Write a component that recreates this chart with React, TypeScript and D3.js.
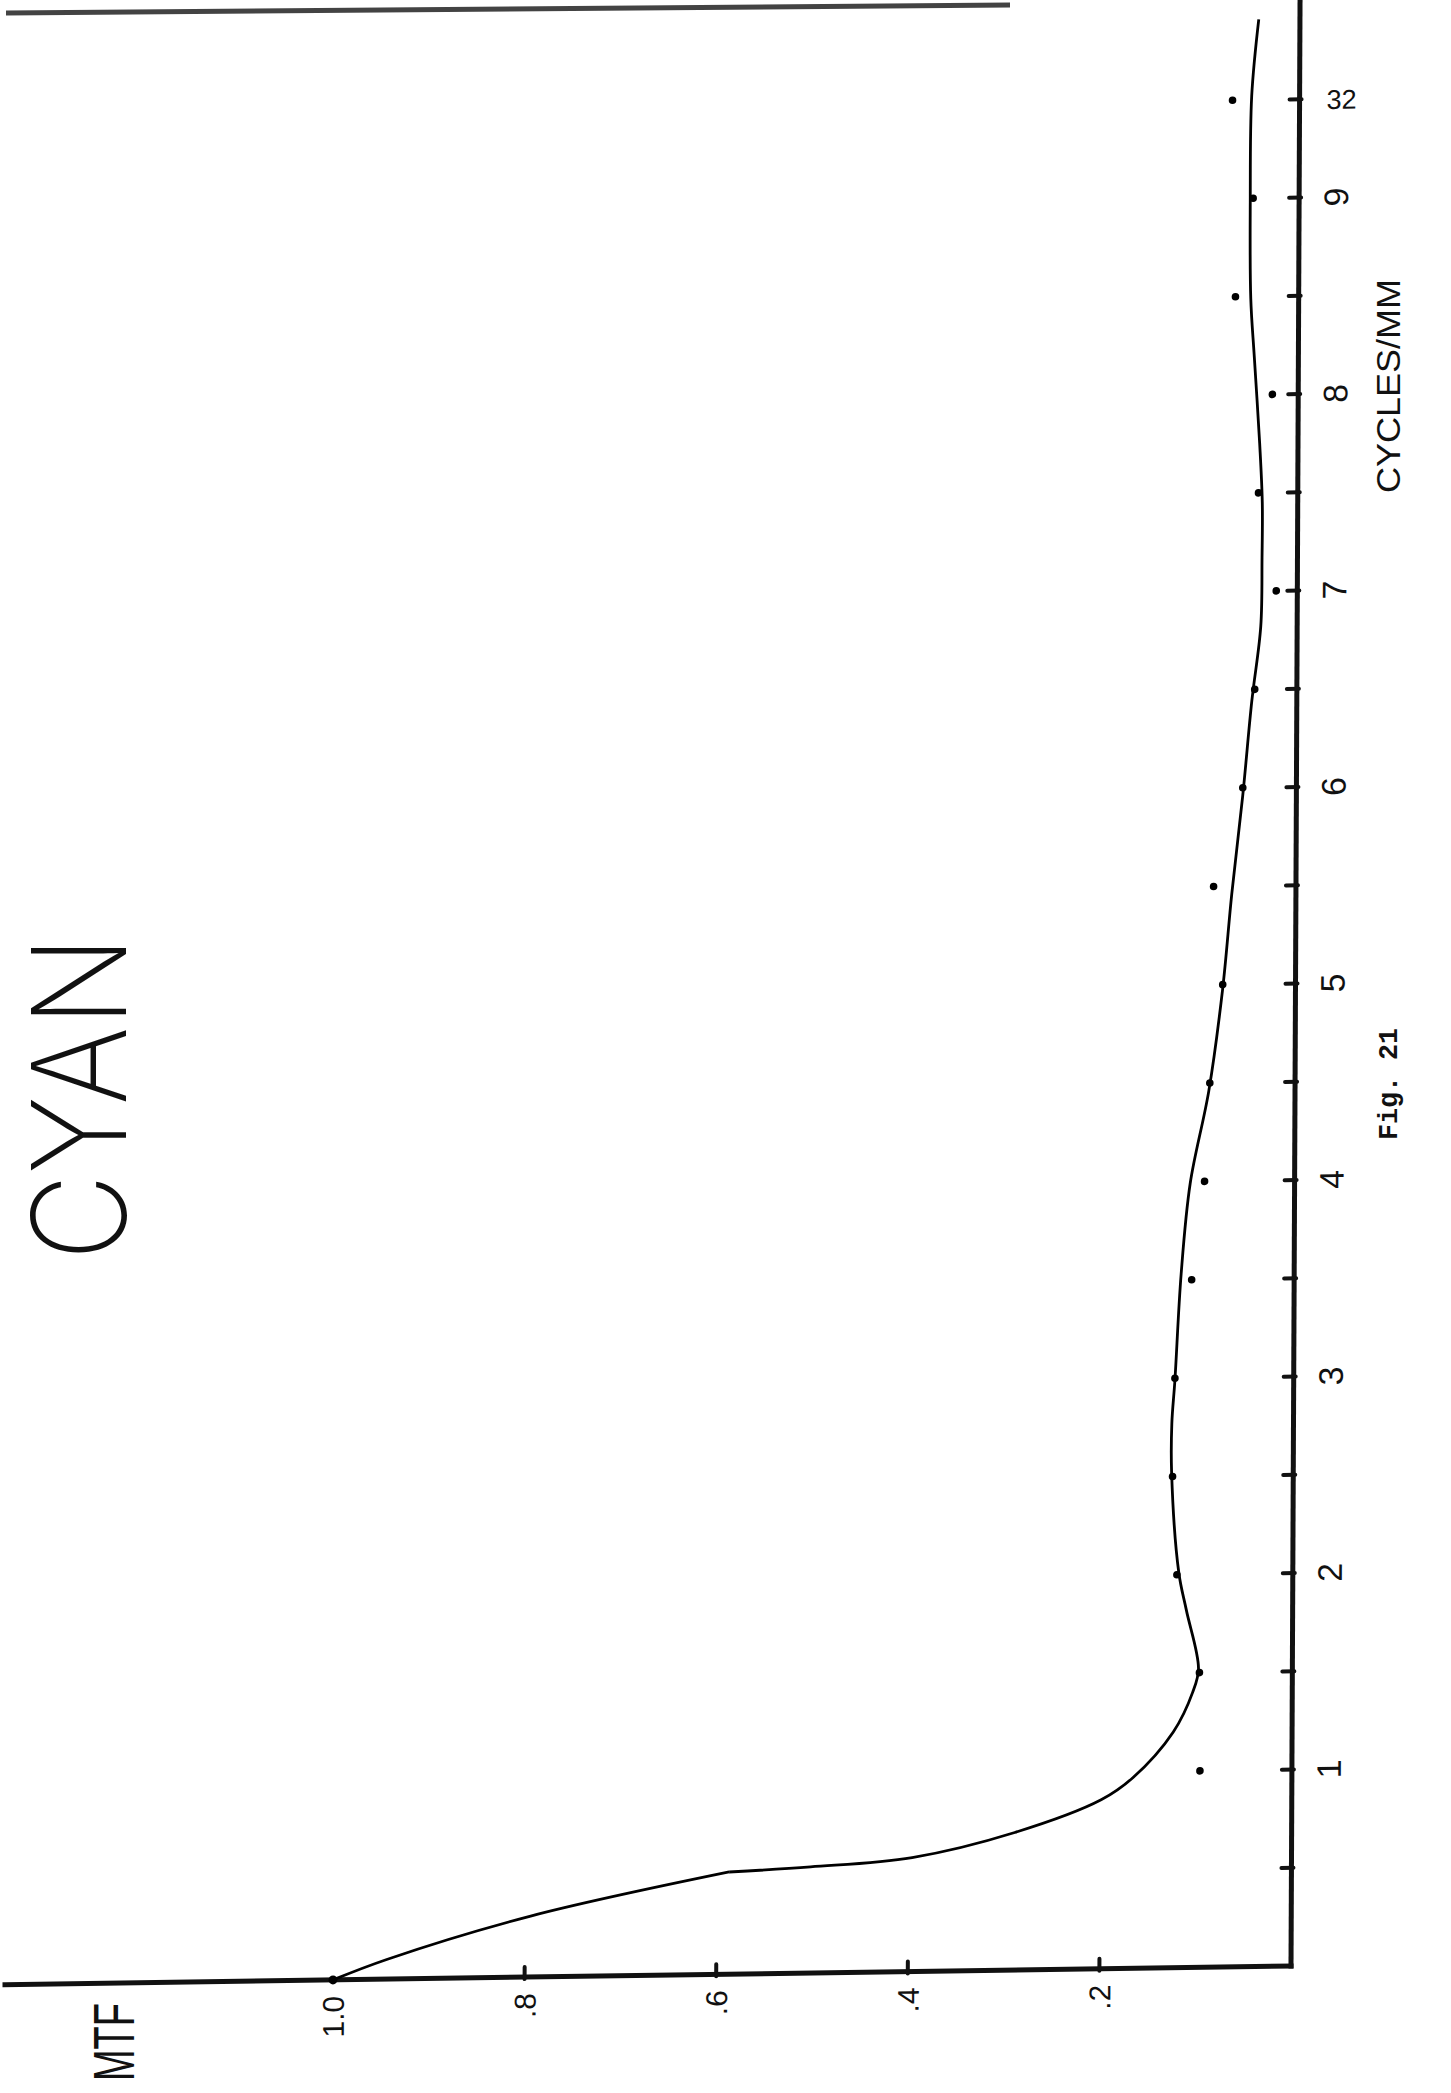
import React from "react";
import * as d3 from "d3";

// Curve traced through the hand-drawn line (cycles index, MTF)
const curveCycles = [0, 0.10, 0.31, 0.52, 0.54, 0.58, 0.70, 0.86, 0.97, 1.20, 1.40, 1.52, 1.82, 2.01, 2.52, 2.77, 2.99, 3.53, 3.99, 4.46, 4.98, 5.46, 5.96, 6.44, 6.82, 7.17, 7.45, 7.75, 8.19, 8.49, 8.98, 9.52, 9.91];
const curveMTF = [1.0, 0.944, 0.794, 0.587, 0.502, 0.396, 0.289, 0.199, 0.166, 0.124, 0.104, 0.098, 0.111, 0.119, 0.127, 0.127, 0.124, 0.118, 0.109, 0.090, 0.076, 0.067, 0.056, 0.047, 0.038, 0.037, 0.037, 0.040, 0.046, 0.050, 0.051, 0.050, 0.043];
const kinkIndex = 3;

// Measured points (dots)
const dotCycles = [0, 1, 1.5, 2, 2.5, 3, 3.5, 4, 4.5, 5, 5.5, 6, 6.5, 7, 7.5, 8, 8.5, 9, 9.5];
const dotMTF = [1.0, 0.096, 0.097, 0.121, 0.126, 0.124, 0.107, 0.094, 0.089, 0.076, 0.086, 0.056, 0.044, 0.022, 0.041, 0.027, 0.066, 0.048, 0.070];

// Axis ticks and labels
const cycleTicks = [0.5, 1, 1.5, 2, 2.5, 3, 3.5, 4, 4.5, 5, 5.5, 6, 6.5, 7, 7.5, 8, 8.5, 9, 9.5];
const cycleLabelPos = [1, 2, 3, 4, 5, 6, 7, 8, 9];
const cycleLabelText = ["1", "2", "3", "4", "5", "6", "7", "8", "9"];
const endLabelPos = 9.5;
const endLabelText = "32";
const mtfTicks = [0.2, 0.4, 0.6, 0.8];
const mtfLabelPos = [0.2, 0.4, 0.6, 0.8, 1.0];
const mtfLabelText = [".2", ".4", ".6", ".8", "1.0"];

const titleText = "CYAN";
const yTitleText = "MTF";
const xTitleText = "CYCLES/MM";
const captionText = "Fig. 21";

type P = { c: number; m: number };

export default function App() {
  const W = 1451;
  const H = 2093;
  const cornerX = 1291;
  const cornerY = 1966;
  const k = -0.0145; // slant of the bottom axis
  const mSk = -0.0046; // slant of the right axis

  const x = d3.scaleLinear().domain([0, 1]).range([cornerX, 333]);
  const y = d3.scaleLinear().domain([0, 9.5]).range([cornerY, 99.3]);

  const pts: P[] = curveCycles.map((c, i) => ({ c, m: curveMTF[i] }));
  const line = d3
    .line<P>()
    .x((d) => x(d.m))
    .y((d) => y(d.c))
    .curve(d3.curveCatmullRom.alpha(0.5));
  const seg1 = line(pts.slice(0, kinkIndex + 1)) || "";
  const seg2 = line(pts.slice(kinkIndex)) || "";

  const topC = y.invert(0);
  const leftM = x.invert(5);

  const hand = "'Liberation Sans', Arial, sans-serif";
  const ink = "#111";

  return (
    <svg
      width={W}
      height={H}
      viewBox={`0 0 ${W} ${H}`}
      style={{ position: "absolute", left: 0, top: 0, display: "block", background: "#fff" }}
    >
      <rect x={0} y={0} width={W} height={H} fill="#fff" />
      {/* page edge */}
      <line x1={6} y1={13} x2={1010} y2={5} stroke="#222" strokeWidth={5} strokeOpacity={0.85} />

      <g transform={`matrix(1, ${k}, ${mSk}, 1, ${-mSk * cornerY}, ${-k * cornerX})`}>
        {/* axes */}
        <line x1={x(leftM)} y1={y(0)} x2={x(0)} y2={y(0)} stroke={ink} strokeWidth={5} strokeLinecap="square" />
        <line x1={x(0)} y1={y(0)} x2={x(0)} y2={y(topC)} stroke={ink} strokeWidth={5} strokeLinecap="square" />
        {cycleTicks.map((t) => (
          <line key={"ct" + t} x1={x(0) - 10} y1={y(t)} x2={x(0) + 2} y2={y(t)} stroke={ink} strokeWidth={4} strokeLinecap="round" />
        ))}
        {mtfTicks.map((t) => (
          <line key={"mt" + t} x1={x(t)} y1={y(0) + 2} x2={x(t)} y2={y(0) - 10} stroke={ink} strokeWidth={4} strokeLinecap="round" />
        ))}
        {cycleLabelPos.map((v, i) => (
          <text
            key={"cl" + v}
            transform={`translate(${x(0) + 49}, ${y(v)}) rotate(-90)`}
            textAnchor="middle"
            fontFamily={hand}
            fontSize={34}
            fill={ink}
          >
            {cycleLabelText[i]}
          </text>
        ))}
        <text
          x={x(0) + 42}
          y={y(endLabelPos) + 10}
          textAnchor="middle"
          fontFamily={hand}
          fontSize={27}
          fill={ink}
        >
          {endLabelText}
        </text>
        {mtfLabelPos.map((v, i) => (
          <text
            key={"ml" + v}
            transform={`translate(${x(v) + 11}, ${y(0) + 16}) rotate(-90)`}
            textAnchor="end"
            fontFamily={hand}
            fontSize={30}
            fill={ink}
          >
            {mtfLabelText[i]}
          </text>
        ))}

        {/* curve */}
        <path d={seg1} fill="none" stroke="#000" strokeWidth={2.8} strokeLinejoin="round" />
        <path d={seg2} fill="none" stroke="#000" strokeWidth={2.8} strokeLinejoin="round" />
        {dotCycles.map((c, i) => (
          <circle key={"d" + i} cx={x(dotMTF[i])} cy={y(c)} r={i === 0 ? 4.5 : 3.8} fill="#000" />
        ))}
      </g>

      {/* titles */}
      <text
        transform={`translate(126, 1098) rotate(-90)`}
        textAnchor="middle"
        fontFamily="Inter, 'DejaVu Sans', sans-serif"
        fontWeight={200}
        fontSize={130}
        textLength={325}
        lengthAdjust="spacingAndGlyphs"
        fill={ink}
      >
        {titleText}
      </text>
      <text
        transform={`translate(134, 2042) rotate(-90)`}
        textAnchor="middle"
        fontFamily={hand}
        fontSize={58}
        textLength={78}
        lengthAdjust="spacingAndGlyphs"
        fill={ink}
      >
        {yTitleText}
      </text>
      <text
        transform={`translate(1400, 386) rotate(-90)`}
        textAnchor="middle"
        fontFamily={hand}
        fontSize={33}
        textLength={214}
        lengthAdjust="spacingAndGlyphs"
        fill={ink}
      >
        {xTitleText}
      </text>
      <text
        transform={`translate(1397, 1084) rotate(-90)`}
        textAnchor="middle"
        fontFamily="'Liberation Mono', 'DejaVu Sans Mono', monospace"
        fontWeight={700}
        fontSize={27}
        textLength={112}
        lengthAdjust="spacingAndGlyphs"
        fill={ink}
      >
        {captionText}
      </text>
    </svg>
  );
}
